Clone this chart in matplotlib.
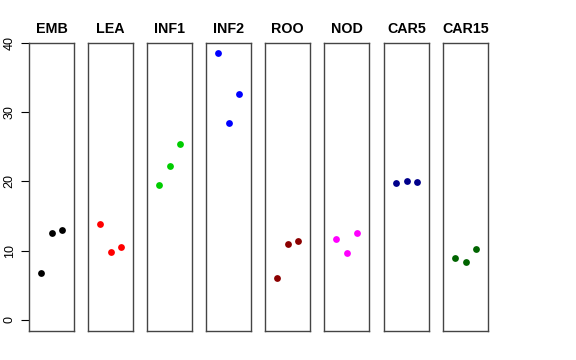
import matplotlib
matplotlib.use('Agg')
import matplotlib.pyplot as plt

plt.rcParams['font.family'] = ['Liberation Sans', 'DejaVu Sans']

# Data
groups = ['EMB', 'LEA', 'INF1', 'INF2', 'ROO', 'NOD', 'CAR5', 'CAR15']
colors = ['black', '#FF0000', '#00CD00', '#0000FF', '#8B0000', '#FF00FF', '#00008B', '#006400']
xpos = [1, 2, 3]
values = {
    'EMB':   [6.8, 12.5, 13.0],
    'LEA':   [13.9, 9.8, 10.5],
    'INF1':  [19.5, 22.2, 25.4],
    'INF2':  [38.5, 28.4, 32.7],
    'ROO':   [6.1, 11.0, 11.4],
    'NOD':   [11.7, 9.7, 12.6],
    'CAR5':  [19.8, 20.1, 19.9],
    'CAR15': [8.9, 8.4, 10.2],
}
yticks = [0, 10, 20, 30, 40]

W, H = 576, 360
fig = plt.figure(figsize=(W / 100, H / 100), dpi=100)

lefts = [29, 88, 147, 206, 265, 324, 384, 443]
for i, g in enumerate(groups):
    ax = fig.add_axes([lefts[i] / W, 29 / H, 45 / W, 288 / H])
    ax.scatter(xpos, values[g], color=colors[i], s=24, zorder=3, linewidths=0)
    ax.set_xlim(-0.16, 4.16)
    ax.set_ylim(-1.6, 40)
    ax.set_xticks([])
    ax.set_title(g, fontsize=10.3, fontweight='bold', pad=7.5)
    for sp in ax.spines.values():
        sp.set_color('#444444')
        sp.set_linewidth(1)
    if i == 0:
        ax.set_yticks(yticks)
        ax.set_yticklabels([str(t) for t in yticks], rotation=90, va='center', fontsize=9)
        ax.tick_params(axis='y', length=5.5, width=0.8, pad=4)
    else:
        ax.set_yticks([])

fig.savefig('out.png', dpi=100)
